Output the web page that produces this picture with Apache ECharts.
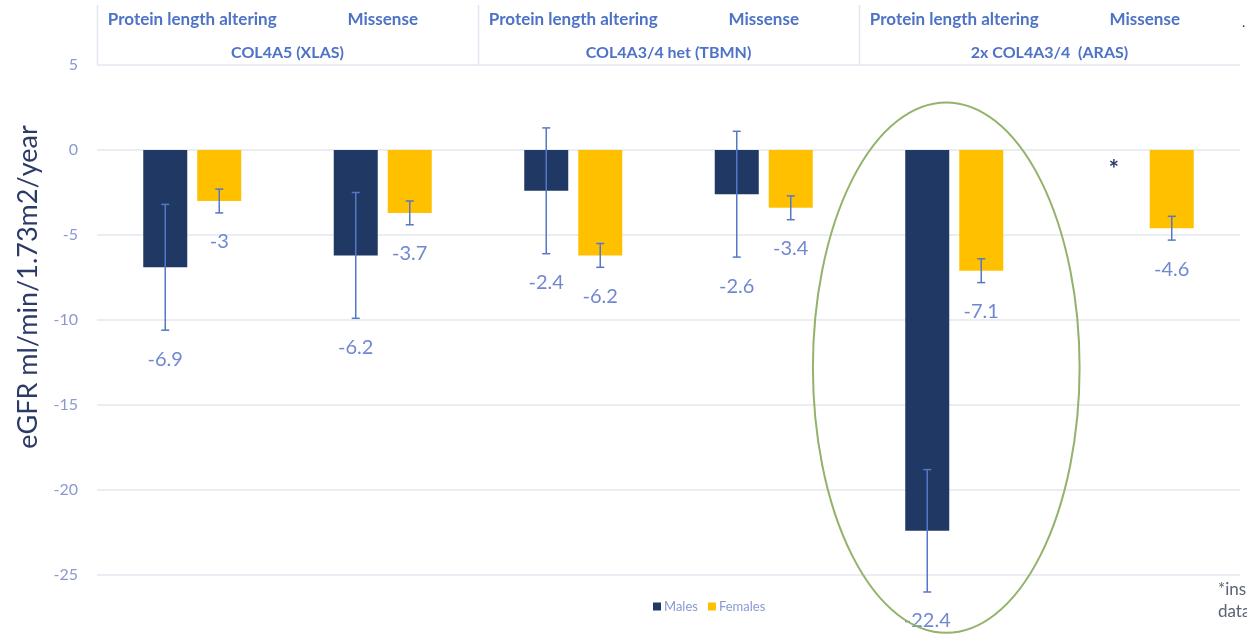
<!DOCTYPE html>
<html>
<head>
<meta charset="utf-8">
<script src="https://cdn.jsdelivr.net/npm/echarts@6/dist/echarts.min.js"></script>
<style>
  html, body { margin: 0; padding: 0; background: #ffffff; }
  #chart { width: 1247px; height: 642px; }
</style>
</head>
<body>
<div id="chart"></div>
<script>
// eGFR slope by genotype group, variant type and sex
const subCategories = ['Protein length altering', 'Missense', 'Protein length altering', 'Missense', 'Protein length altering', 'Missense'];
const groups = ['COL4A5 (XLAS)', 'COL4A3/4 het (TBMN)', '2x COL4A3/4  (ARAS)'];
const males = [-6.9, -6.2, -2.4, -2.6, -22.4, null];
const maleErr = [3.7, 3.7, 3.7, 3.7, 3.6, null];
const females = [-3, -3.7, -6.2, -3.4, -7.1, -4.6];
const femaleErr = [0.7, 0.7, 0.7, 0.7, 0.7, 0.7];
const yMin = -25, yMax = 5, yStep = 5;
const highlightedCategory = 4;

const MALE_COLOR = '#203864';
const FEMALE_COLOR = '#ffc000';
const ERR_COLOR = '#5577c9';
const LABEL_COLOR = '#7088d2';
const TICK_COLOR = '#8b99d0';
const HEADER_COLOR = '#4d72c6';
const GRID_COLOR = '#e3e7f1';
const FONT = 'Lato, "Noto Sans", sans-serif';
const BAR_W = 44, BAR_GAP = 10;
const HALF_STEP = (BAR_W + BAR_GAP) / 2;

const chart = echarts.init(document.getElementById('chart'));

// Error whiskers plus the value label under each whisker
function errorSeries(name, values, errs, side) {
  const data = [];
  values.forEach((v, i) => { if (v !== null) data.push([i, v, errs[i]]); });
  return {
    type: 'custom', name: name, silent: true, clip: false, z: 5,
    data: data,
    renderItem(params, api) {
      const i = api.value(0), v = api.value(1), e = api.value(2);
      const x = api.coord([i, 0])[0] + side * HALF_STEP;
      const yHi = api.coord([i, v + e])[1];
      const yLo = api.coord([i, v - e])[1];
      const line = { stroke: ERR_COLOR, lineWidth: 1.5 };
      return {
        type: 'group',
        children: [
          { type: 'line', shape: { x1: x, y1: yHi, x2: x, y2: yLo }, style: line },
          { type: 'line', shape: { x1: x - 4, y1: yHi, x2: x + 4, y2: yHi }, style: line },
          { type: 'line', shape: { x1: x - 4, y1: yLo, x2: x + 4, y2: yLo }, style: line },
          { type: 'text', x: x, y: yLo + 29,
            style: { text: String(v), fill: LABEL_COLOR, fontSize: 20, fontFamily: FONT,
                     align: 'center', verticalAlign: 'middle' } }
        ]
      };
    }
  };
}

// Asterisk where the male value is missing
const missingMale = [];
males.forEach((v, i) => { if (v === null) missingMale.push([i, 0]); });

const baseGraphic = [
  { type: 'text', x: 28, y: 287, rotation: Math.PI / 2,
    style: { text: 'eGFR ml/min/1.73m2/year', fill: '#2b3a67', fontSize: 27, fontFamily: FONT,
             align: 'center', verticalAlign: 'middle' } },
  { type: 'text', x: 1218, y: 590,
    style: { text: '*insufficient', fill: '#5b6275', fontSize: 17, fontFamily: FONT, verticalAlign: 'middle' } },
  { type: 'text', x: 1218, y: 612,
    style: { text: 'data', fill: '#5b6275', fontSize: 17, fontFamily: FONT, verticalAlign: 'middle' } },
  { type: 'text', x: 1242, y: 22,
    style: { text: '.', fill: '#2b3a67', fontSize: 14, fontFamily: FONT, verticalAlign: 'middle' } }
];

const option = {
  animation: false,
  backgroundColor: '#ffffff',
  grid: { left: 97, right: 7, top: 65, bottom: 67, containLabel: false },
  legend: {
    data: ['Males', 'Females'],
    left: 648, top: 595,
    icon: 'rect', itemWidth: 8, itemHeight: 8, itemGap: 10,
    textStyle: { color: TICK_COLOR, fontSize: 13, fontFamily: FONT, padding: [0, 0, 0, -2] }
  },
  xAxis: [
    {
      type: 'category', data: subCategories, position: 'bottom',
      axisLine: { show: false }, axisTick: { show: false }, axisLabel: { show: false }
    },
    {
      type: 'category', data: subCategories, position: 'top',
      axisLine: { show: false }, axisTick: { show: false },
      axisLabel: { interval: 0, margin: 37, color: HEADER_COLOR, fontSize: 17, fontWeight: 'bold', fontFamily: FONT }
    },
    {
      type: 'category', data: groups, position: 'top',
      axisLine: { show: false }, axisTick: { show: false },
      axisLabel: { interval: 0, margin: 4, color: HEADER_COLOR, fontSize: 16, fontWeight: 'bold', fontFamily: FONT }
    }
  ],
  yAxis: {
    type: 'value', min: yMin, max: yMax, interval: yStep,
    axisLine: { show: false }, axisTick: { show: false },
    axisLabel: { margin: 19, color: TICK_COLOR, fontSize: 16, fontFamily: FONT },
    splitLine: { lineStyle: { color: GRID_COLOR, width: 1.5 } }
  },
  series: [
    { name: 'Males', type: 'bar', data: males, barWidth: BAR_W, barGap: (BAR_GAP / BAR_W * 100) + '%',
      itemStyle: { color: MALE_COLOR }, z: 2 },
    { name: 'Females', type: 'bar', data: females, barWidth: BAR_W,
      itemStyle: { color: FEMALE_COLOR }, z: 2 },
    errorSeries('Males error', males, maleErr, -1),
    errorSeries('Females error', females, femaleErr, 1),
    {
      type: 'custom', name: 'missing', silent: true, clip: false, z: 6,
      data: missingMale,
      renderItem(params, api) {
        const c = api.coord([api.value(0), api.value(1)]);
        return { type: 'text', x: c[0] - HALF_STEP - 4, y: c[1] + 20,
          style: { text: '*', fill: '#2b3a67', fontSize: 24, fontWeight: 'bold', fontFamily: FONT,
                   align: 'center', verticalAlign: 'middle' } };
      }
    },
    {
      // outline emphasising the ARAS protein-length-altering pair
      type: 'custom', name: 'highlight', silent: true, clip: false, z: 7,
      data: [[highlightedCategory, -12.8]],
      renderItem(params, api) {
        const c = api.coord([api.value(0), api.value(1)]);
        const band = api.size([1, 0])[0];
        const cx = c[0] - 8, cy = c[1];
        const rx = band * 0.7, ry = api.size([0, 15.6])[1];
        const d = 'M ' + (cx - rx) + ' ' + cy +
          ' A ' + rx + ' ' + ry + ' 0 1 0 ' + (cx + rx) + ' ' + cy +
          ' A ' + rx + ' ' + ry + ' 0 1 0 ' + (cx - rx) + ' ' + cy + ' Z';
        return { type: 'path', shape: { pathData: d }, style: { fill: null, stroke: '#93b26b', lineWidth: 2 } };
      }
    }
  ],
  graphic: baseGraphic
};

chart.setOption(option);

// Header separators at the left edge of each genotype group
const topY = chart.convertToPixel({ yAxisIndex: 0 }, yMax);
const p0 = chart.convertToPixel({ xAxisIndex: 0 }, 0);
const p1 = chart.convertToPixel({ xAxisIndex: 0 }, 1);
const band = p1 - p0;
const separators = groups.map((g, gi) => {
  const x = Math.round(chart.convertToPixel({ xAxisIndex: 0 }, gi * 2) - band / 2) + 0.5;
  return { type: 'line', shape: { x1: x, y1: 5, x2: x, y2: topY }, style: { stroke: GRID_COLOR, lineWidth: 1.5 } };
});
chart.setOption({ graphic: baseGraphic.concat(separators) });
</script>
</body>
</html>
